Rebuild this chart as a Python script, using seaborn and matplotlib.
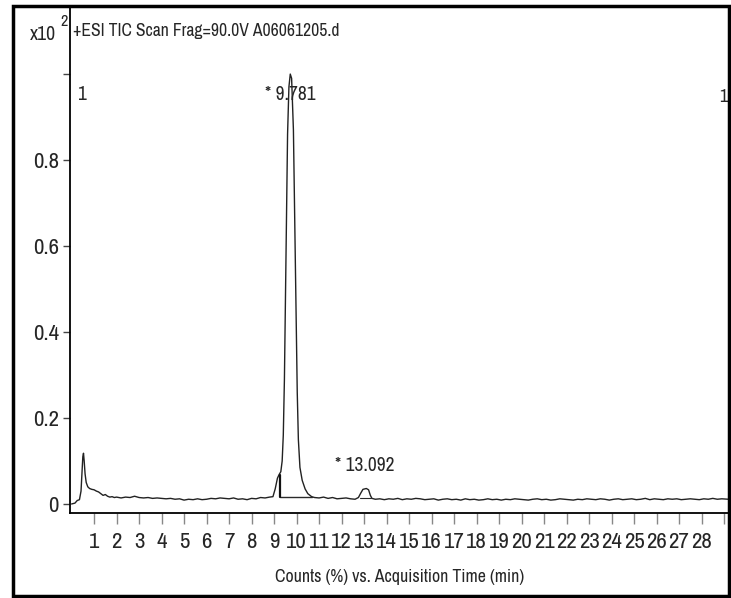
import matplotlib
matplotlib.use("Agg")
import matplotlib.pyplot as plt
from matplotlib import font_manager as fm
import seaborn as sns
import pandas as pd
from matplotlib.patches import Rectangle
from matplotlib.lines import Line2D

# ---- data ----
time_min = [0.00, 0.15, 0.25, 0.35, 0.42, 0.47, 0.50, 0.53, 0.56, 0.60, 0.65, 0.72, 0.80, 0.90,
            1.0, 1.1, 1.2, 1.3, 1.4, 1.5, 1.6, 1.7, 1.8, 1.9, 2.0,
            2.2, 2.4, 2.6, 2.8, 3.0, 3.2, 3.4, 3.6, 3.8, 4.0, 4.2, 4.4, 4.6, 4.8, 5.0,
            5.2, 5.4, 5.6, 5.8, 6.0, 6.2, 6.4, 6.6, 6.8, 7.0, 7.2, 7.4, 7.6, 7.8, 8.0,
            8.2, 8.4, 8.6, 8.8, 8.95,
            9.05, 9.15, 9.22, 9.30, 9.36, 9.41, 9.46, 9.53, 9.60, 9.66, 9.72, 9.78,
            9.86, 9.93, 9.98, 10.03, 10.08, 10.15, 10.25, 10.38, 10.5, 10.67, 10.8,
            11.0, 11.2, 11.4, 11.6, 11.8, 12.0, 12.2, 12.4, 12.6, 12.75, 12.85, 12.95,
            13.1, 13.2, 13.28, 13.35, 13.5, 13.7, 13.9, 14.1, 14.3, 14.5, 14.7, 14.9,
            15.1, 15.3, 15.5, 15.7, 15.9, 16.1, 16.3, 16.5, 16.7, 16.9, 17.1, 17.3,
            17.5, 17.7, 17.9, 18.1, 18.3, 18.5, 18.7, 18.9, 19.1, 19.3, 19.5, 19.7,
            19.9, 20.1, 20.3, 20.5, 20.7, 20.9, 21.1, 21.3, 21.5, 21.7, 21.9, 22.1,
            22.3, 22.5, 22.7, 22.9, 23.1, 23.3, 23.5, 23.7, 23.9, 24.1, 24.3, 24.5,
            24.7, 24.9, 25.1, 25.3, 25.5, 25.7, 25.9, 26.1, 26.3, 26.5, 26.7, 26.9,
            27.1, 27.3, 27.5, 27.7, 27.9, 28.1, 28.3, 28.5, 28.7, 28.9, 29.2]
counts = [0.000, 0.002, 0.008, 0.010, 0.030, 0.080, 0.110, 0.118, 0.100, 0.070, 0.050, 0.040, 0.036, 0.034,
          0.033, 0.030, 0.028, 0.024, 0.020, 0.022, 0.018, 0.016, 0.017, 0.015, 0.016,
          0.014, 0.016, 0.015, 0.018, 0.015, 0.014, 0.015, 0.013, 0.014, 0.013, 0.012, 0.013, 0.011, 0.012, 0.009,
          0.011, 0.010, 0.012, 0.010, 0.011, 0.013, 0.012, 0.014, 0.013, 0.012, 0.014, 0.011, 0.012, 0.010, 0.013,
          0.012, 0.015, 0.014, 0.016, 0.017,
          0.035, 0.060, 0.068, 0.075, 0.100, 0.160, 0.290, 0.570, 0.860, 0.970, 1.000, 0.990,
          0.870, 0.620, 0.450, 0.260, 0.150, 0.085, 0.055, 0.035, 0.024, 0.017, 0.015,
          0.014, 0.016, 0.013, 0.015, 0.012, 0.013, 0.014, 0.012, 0.011, 0.015, 0.025, 0.034,
          0.036, 0.033, 0.020, 0.013, 0.011, 0.012, 0.010, 0.012, 0.011, 0.013, 0.010, 0.012,
          0.011, 0.013, 0.012, 0.010, 0.011, 0.012, 0.009, 0.011, 0.012, 0.010, 0.011, 0.009,
          0.012, 0.010, 0.011, 0.009, 0.010, 0.012, 0.010, 0.011, 0.009, 0.011, 0.010, 0.012,
          0.011, 0.010, 0.009, 0.011, 0.012, 0.010, 0.011, 0.009, 0.010, 0.012, 0.011, 0.010,
          0.009, 0.011, 0.010, 0.012, 0.011, 0.010, 0.012, 0.011, 0.009, 0.011, 0.012, 0.010,
          0.011, 0.012, 0.010, 0.011, 0.013, 0.010, 0.012, 0.011, 0.010, 0.012, 0.011, 0.012,
          0.010, 0.011, 0.012, 0.011, 0.010, 0.012, 0.011, 0.013, 0.011, 0.012, 0.011]

peak_times = [9.781, 13.092]
peak_labels = ["* 9.781", "* 13.092"]
ytick_values = [0, 0.2, 0.4, 0.6, 0.8, 1.0]
ytick_labels = ["0", "0.2", "0.4", "0.6", "0.8", ""]
xtick_values = list(range(1, 30))
xtick_labels = [str(v) for v in range(1, 29)] + [""]

title_text = "+ESI TIC Scan Frag=90.0V A06061205.d"
xlabel_text = "Counts (%) vs. Acquisition Time (min)"

# ---- style ----
sns.set_theme(style="ticks")

# pick a narrow face if one is installed
entries = fm.fontManager.ttflist
family, stretch, narrow = "Liberation Sans", "normal", False
for f in entries:
    if ("Narrow" in f.name) or ("Condensed" in f.name):
        family, narrow = f.name, True
        break
if not narrow:
    for f in entries:
        st = str(f.stretch).lower()
        if "condensed" in st and f.name in ("Noto Sans", "DejaVu Sans", "Roboto", "Open Sans"):
            family, stretch, narrow = f.name, f.stretch, True
            break

plt.rcParams["font.family"] = [family, "DejaVu Sans"]
plt.rcParams["font.stretch"] = stretch

fs_tick = 16.5 if narrow else 12.5
fs_xlab = 12.8 if narrow else 11
fs_title = 12.7 if narrow else 11
fs_peak = 14 if narrow else 12.5

W, H = 731, 598
fig = plt.figure(figsize=(W / 100, H / 100), dpi=100)
ax = fig.add_axes([70 / W, (H - 513) / H, (729 - 70) / W, (513 - 7) / H])

df = pd.DataFrame({"time": time_min, "counts": counts})
sns.lineplot(data=df, x="time", y="counts", ax=ax, color="#222222", lw=1.0,
             estimator=None, sort=False)

ax.set_xlim(-0.07, 29.22)
ax.set_ylim(-0.021, 1.156)

ax.set_xticks(xtick_values)
ax.set_xticklabels(xtick_labels, fontsize=fs_tick)
ax.set_yticks(ytick_values)
ax.set_yticklabels(ytick_labels, fontsize=fs_tick)
ax.tick_params(axis="x", direction="out", length=8, width=1, color="#888888", pad=6)
ax.tick_params(axis="y", direction="out", length=5, width=1, color="#444444", pad=3)
ax.set_xlabel(xlabel_text, fontsize=fs_xlab, labelpad=12)
ax.set_ylabel("")

for s in ["top", "right"]:
    ax.spines[s].set_visible(False)
for s in ["left", "bottom"]:
    ax.spines[s].set_linewidth(1.3)
    ax.spines[s].set_color("black")

# integration baselines
ax.add_line(Line2D([9.27, 10.67], [0.016, 0.016], color="#2a2a2a", lw=1.0))
ax.add_line(Line2D([9.27, 9.27], [0.016, 0.068], color="#111111", lw=1.6))
ax.add_line(Line2D([12.8, 13.3], [0.013, 0.013], color="#2a2a2a", lw=0.8))

# peak labels
ax.text(peak_times[0] - 0.05, 0.952, peak_labels[0], ha="center", va="center", fontsize=fs_peak)
ax.text(peak_times[1] - 0.05, 0.09, peak_labels[1], ha="center", va="center", fontsize=fs_peak)

# scan markers "1"
ax.text(0.25, 0.952, "1", ha="left", va="center", fontsize=fs_peak)
ax.text(28.98, 0.946, "1", ha="center", va="center", fontsize=fs_peak - 1)

# header texts
fig.text(73 / W, 1 - 31 / H, title_text, ha="left", va="center", fontsize=fs_title)
fig.text(56 / W, 1 - 35 / H, "x10", ha="right", va="center", fontsize=fs_title + 1.5)
fig.text(60 / W, 1 - 22 / H, "2", ha="left", va="center", fontsize=fs_title - 1)

# outer frame
fig.add_artist(Rectangle((13 / W, 2 / H), 716 / W, 590 / H, transform=fig.transFigure,
                         fill=False, edgecolor="black", lw=2.5))

fig.savefig("out.png", dpi=100)
